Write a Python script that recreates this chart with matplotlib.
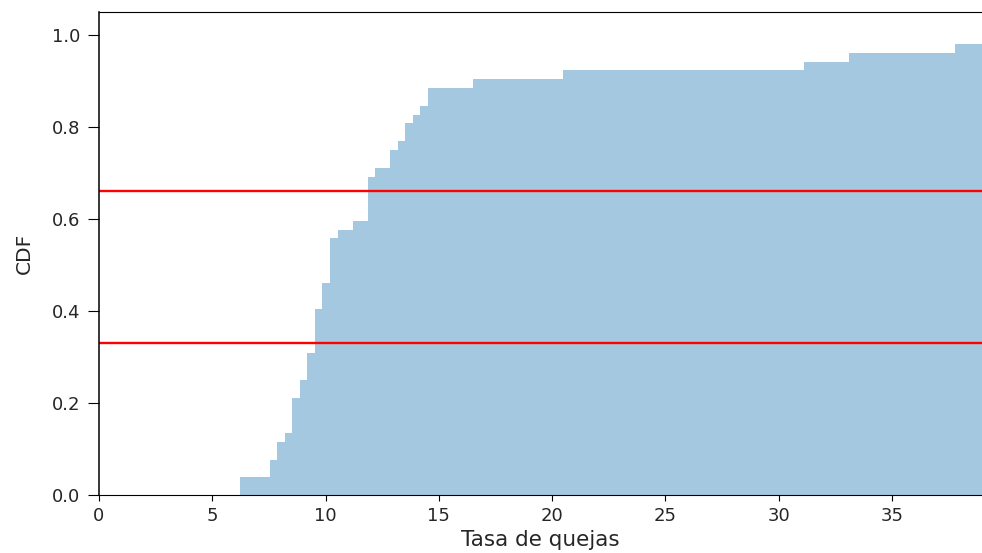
import numpy as np
import matplotlib
matplotlib.use('Agg')
import matplotlib.pyplot as plt

tasas = [6.21, 6.35, 7.62, 7.75, 7.95, 8.10, 8.38, 8.60, 8.68, 8.75, 8.80,
         8.95, 9.10, 9.28, 9.35, 9.45, 9.60, 9.66, 9.70, 9.75, 9.80,
         9.95, 10.05, 10.12, 10.26, 10.32, 10.38, 10.42, 10.47, 10.70,
         11.35, 11.92, 11.98, 12.03, 12.08, 12.13, 12.35, 12.95, 13.08,
         13.35, 13.62, 13.75, 14.00, 14.35, 14.62, 14.74, 16.65, 20.65,
         31.30, 33.28, 37.92, 39.42]

# tercile thresholds
cortes = [0.33, 0.66]

text_color = '#262626'

fig = plt.figure(figsize=(9.82, 5.53), dpi=100)
ax = fig.add_axes([0.1008, 0.1049, 0.8992, 0.8734])

ax.hist(tasas, bins=100, cumulative=True, density=True,
        histtype='stepfilled', alpha=0.4)
for c in cortes:
    ax.axhline(c, color='red', linewidth=1.7)

ax.set_xlim(0, 38.97)
ax.set_ylim(0, 1.05)
ax.set_xticks(range(0, 40, 5))
ax.spines['right'].set_visible(False)
ax.spines['left'].set_linewidth(1.1)
ax.tick_params(axis='x', labelsize=13, length=4.5, pad=4.5,
               labelcolor=text_color)
ax.tick_params(axis='y', labelsize=13, length=8, pad=5.5,
               labelcolor=text_color)
ax.set_xlabel('Tasa de quejas', fontsize=15.5, color=text_color, labelpad=3)
ax.set_ylabel('CDF', fontsize=14.5, color=text_color, labelpad=13)

fig.savefig('out.png', dpi=100)
